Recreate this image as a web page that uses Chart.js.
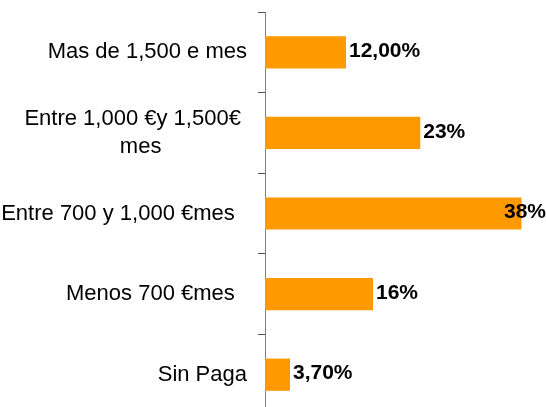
<!DOCTYPE html>
<html>
<head>
<meta charset="utf-8">
<script src="https://cdn.jsdelivr.net/npm/chart.js"></script>
<style>
  html, body { margin: 0; padding: 0; background: #fff; }
  #wrap { width: 546px; height: 407px; overflow: hidden; }
</style>
</head>
<body>
<div id="wrap"><canvas id="chart" width="546" height="415"></canvas></div>
<script>
const categories = [
  "Mas de 1,500 e mes",
  ["Entre 1,000 €y 1,500€ ", "mes" + " ".repeat(14)],
  "Entre 700 y 1,000 €mes  ",
  "Menos 700 €mes  ",
  "Sin Paga"
];
const values = [12, 23, 38, 16, 3.7];
const valueLabels = ["12,00%", "23%", "38%", "16%", "3,70%"];

const FONT = "'Liberation Sans', Arial, sans-serif";

// value labels at the end of each bar, pushed back inside the canvas when they would overflow
const barLabels = {
  id: "barLabels",
  afterDatasetsDraw(chart) {
    const ctx = chart.ctx;
    const meta = chart.getDatasetMeta(0);
    ctx.save();
    ctx.font = "bold 21px " + FONT;
    ctx.fillStyle = "#000";
    ctx.textBaseline = "middle";
    ctx.textAlign = "left";
    meta.data.forEach((bar, i) => {
      const text = valueLabels[i];
      const w = ctx.measureText(text).width;
      let x = bar.x + 3;
      if (x + w > chart.width) x = chart.width - w;
      ctx.fillText(text, x, bar.y - 1);
    });
    ctx.restore();
  }
};

new Chart(document.getElementById("chart"), {
  type: "bar",
  data: {
    labels: categories,
    datasets: [{
      data: values,
      backgroundColor: "#ff9900",
      borderWidth: 0,
      categoryPercentage: 1,
      barPercentage: 0.4
    }]
  },
  options: {
    indexAxis: "y",
    responsive: false,
    animation: false,
    devicePixelRatio: 1,
    layout: { padding: { top: 12, right: 11, bottom: 0, left: 0 } },
    plugins: { legend: { display: false }, tooltip: { enabled: false } },
    scales: {
      x: { display: false, min: 0, max: 40 },
      y: {
        afterFit: (scale) => {
          scale.width = 265;
          scale.paddingTop = 0;
          scale.paddingBottom = 0;
        },
        border: { display: true, color: "#808080", width: 1 },
        grid: { drawOnChartArea: false, drawTicks: true, tickLength: 7, color: "#555", offset: true },
        ticks: {
          color: "#000",
          padding: 11,
          font: { family: FONT, size: 22, lineHeight: 1.25 }
        }
      }
    }
  },
  plugins: [barLabels]
});
</script>
</body>
</html>
